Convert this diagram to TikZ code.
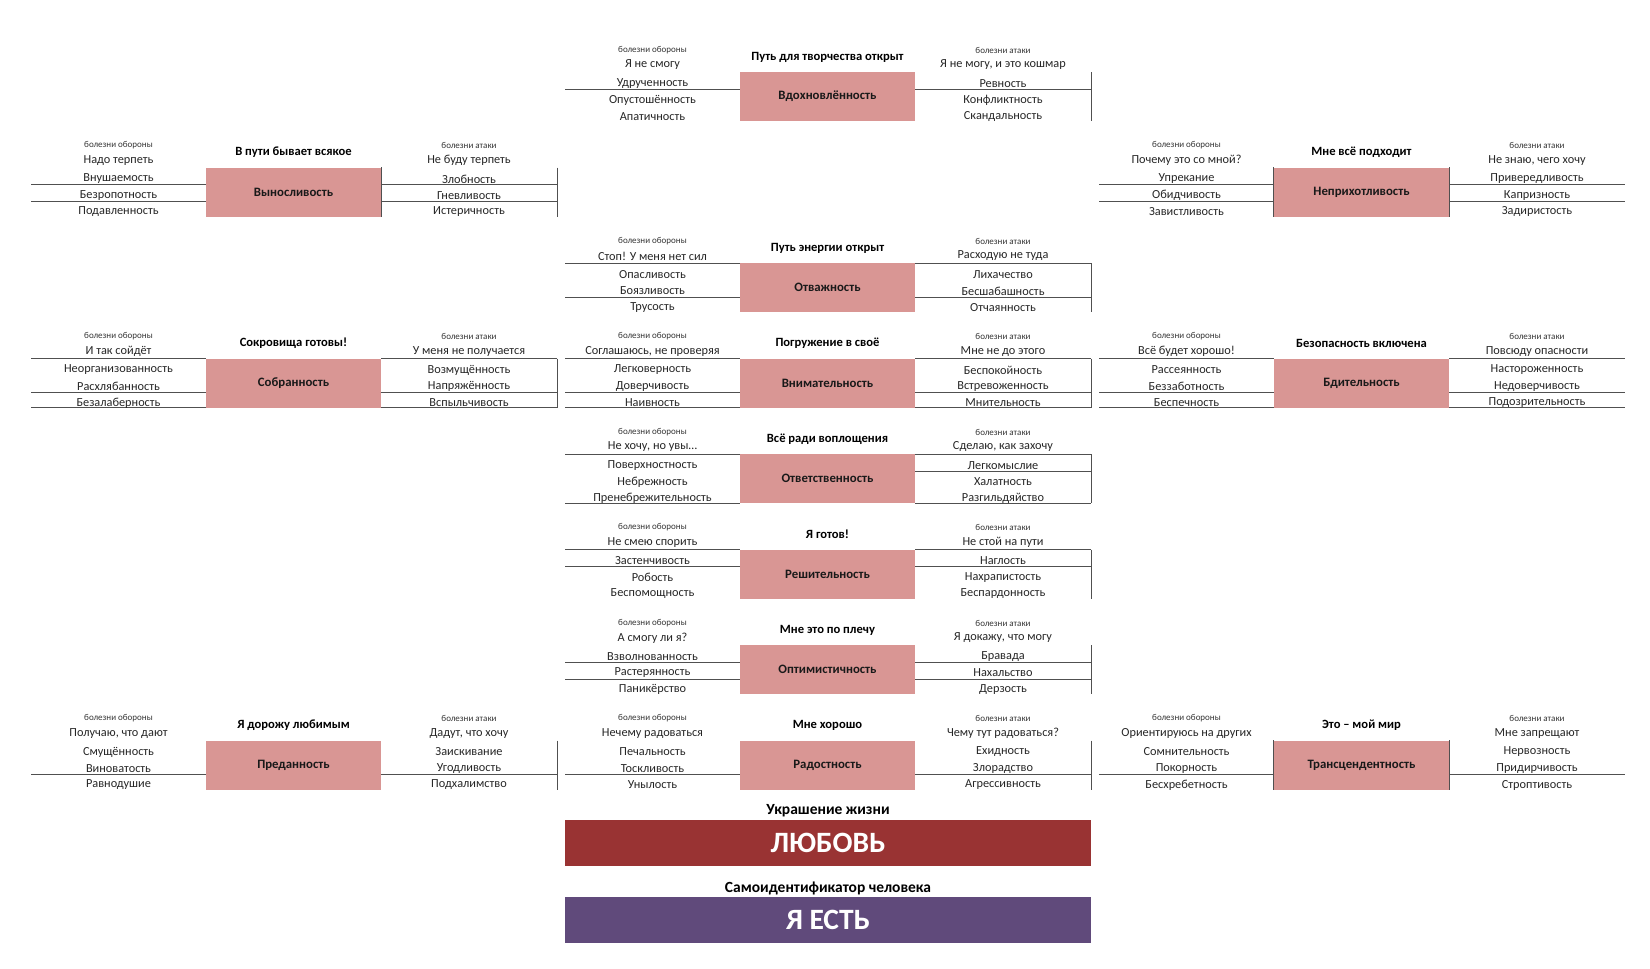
\documentclass[tikz,border=0pt]{standalone}
\usepackage{fontspec}
\setmainfont{Carlito}
\usetikzlibrary{positioning}
\definecolor{boxpink}{RGB}{217,150,148}
\definecolor{loveRed}{RGB}{153,51,51}
\definecolor{iamViolet}{RGB}{96,74,123}
\definecolor{gridgrey}{RGB}{80,80,80}

\tikzset{
  cell/.style={font=\fontsize{12.3}{14}\selectfont, text=black!85, inner sep=0pt},
  head/.style={font=\fontsize{9}{10}\selectfont, text=black!80, inner sep=0pt},
  ttl/.style={font=\bfseries\fontsize{12.6}{14}\selectfont, inner sep=0pt},
  virtue/.style={fill=boxpink, font=\bfseries\fontsize{12.8}{14}\selectfont, text=black!90,
    minimum width=175pt, minimum height=49pt, inner sep=0pt},
  rule/.style={draw=gridgrey, line width=1pt},
  bar/.style={text=white, font=\bfseries\fontsize{29.5}{32}\selectfont,
    minimum width=526pt, minimum height=46pt, inner sep=0pt},
  barttl/.style={font=\bfseries\fontsize{15.5}{17}\selectfont, inner sep=0pt}
}

\begin{document}
\begin{tikzpicture}[x=1pt, y=-1pt]
\useasboundingbox (0,0) rectangle (1650,969);

% blocks: x / row / title / virtue / defence / attack / 3 left / 3 right / left rules / right rules / right edge
\foreach \bx/\k/\ttl/\vt/\dl/\al/\la/\lb/\lc/\ra/\rb/\rc/\ll/\rl/\vv [count=\n] in {
  565/0/Путь для творчества открыт/Вдохновлённость/Я не смогу/{Я не могу, и это кошмар}/Удрученность/Опустошённость/Апатичность/Ревность/Конфликтность/Скандальность/{17}/{17}/1,
  31/1/В пути бывает всякое/Выносливость/Надо терпеть/Не буду терпеть/Внушаемость/Безропотность/Подавленность/Злобность/Гневливость/Истеричность/{17,34}/{17,34}/1,
  1099/1/Мне всё подходит/Неприхотливость/Почему это со мной?/{Не знаю, чего хочу}/Упрекание/Обидчивость/Завистливость/Привередливость/Капризность/Задиристость/{17,34}/{17,34}/0,
  565/2/Путь энергии открыт/Отважность/Стоп! У меня нет сил/Расходую не туда/Опасливость/Боязливость/Трусость/Лихачество/Бесшабашность/Отчаянность/{0,34}/{0,34}/1,
  31/3/Сокровища готовы!/Собранность/И так сойдёт/У меня не получается/Неорганизованность/Расхлябанность/Безалаберность/Возмущённость/Напряжённость/Вспыльчивость/{0,34,49}/{0,34,49}/1,
  565/3/Погружение в своё/Внимательность/{Соглашаюсь, не проверяя}/Мне не до этого/Легковерность/Доверчивость/Наивность/Беспокойность/Встревоженность/Мнительность/{0,34,49}/{0,34,49}/1,
  1099/3/Безопасность включена/Бдительность/Всё будет хорошо!/Повсюду опасности/Рассеянность/Беззаботность/Беспечность/Настороженность/Недоверчивость/Подозрительность/{0,34,49}/{0,34,49}/0,
  565/4/Всё ради воплощения/Ответственность/{Не хочу, но увы…}/{Сделаю, как захочу}/Поверхностность/Небрежность/Пренебрежительность/Легкомыслие/Халатность/Разгильдяйство/{0,49}/{0,17,49}/1,
  565/5/Я готов!/Решительность/Не смею спорить/Не стой на пути/Застенчивость/Робость/Беспомощность/Наглость/Нахрапистость/Беспардонность/{0,17}/{0,17}/1,
  565/6/Мне это по плечу/Оптимистичность/А смогу ли я?/{Я докажу, что могу}/Взволнованность/Растерянность/Паникёрство/Бравада/Нахальство/Дерзость/{17,34}/{17,34}/1,
  31/7/Я дорожу любимым/Преданность/{Получаю, что дают}/{Дадут, что хочу}/Смущённость/Виноватость/Равнодушие/Заискивание/Угодливость/Подхалимство/{34}/{34}/1,
  565/7/Мне хорошо/Радостность/Нечему радоваться/Чему тут радоваться?/Печальность/Тоскливость/Унылость/Ехидность/Злорадство/Агрессивность/{34}/{34}/1,
  1099/7/Это – мой мир/Трансцендентность/Ориентируюсь на других/Мне запрещают/Сомнительность/Покорность/Бесхребетность/Нервозность/Придирчивость/Строптивость/{34}/{34}/0}
{
  \pgfmathsetmacro{\by}{72+95.5*\k}
  % grid rules
  \foreach \c in \ll {\draw[rule] (\bx,\by+\c) -- ++(175,0);}
  \foreach \c in \rl {\draw[rule] (\bx+350,\by+\c) -- ++(176,0);}
  \ifnum\vv=1 \draw[rule] (\bx+526,\by) -- ++(0,49); \fi
  % centre box and title
  \node[virtue] (vir\n) at (\bx+262.5,\by+24.5) {\vt};
  \node[ttl] (ttl\n) at (\bx+262.5,\by-15) {\ttl};
  % defence side
  \node[head] (dh\n) at (\bx+87.5,\by-22) {болезни обороны};
  \node[cell] (dl\n) at (\bx+87.5,\by-7) {\dl};
  \node[cell] (la\n) at (\bx+87.5,\by+11.5) {\la};
  \node[cell] (lb\n) at (\bx+87.5,\by+28) {\lb};
  \node[cell] (lc\n) at (\bx+87.5,\by+44.5) {\lc};
  % attack side
  \node[head] (ah\n) at (\bx+438,\by-22) {болезни атаки};
  \node[cell] (al\n) at (\bx+438,\by-7) {\al};
  \node[cell] (ra\n) at (\bx+438,\by+11.5) {\ra};
  \node[cell] (rb\n) at (\bx+438,\by+28) {\rb};
  \node[cell] (rc\n) at (\bx+438,\by+44.5) {\rc};
}

% dark box edges on the outer blocks
\draw[rule] (vir2.north east) -- (vir2.south east);
\draw[rule] (vir3.north west) -- (vir3.south west);
\draw[rule] (vir3.north east) -- (vir3.south east);
\draw[rule] (vir13.north west) -- (vir13.south west);
\draw[rule] (vir13.north east) -- (vir13.south east);

% bottom bars
\node[barttl] (decor) at (828,811) {Украшение жизни};
\node[bar, fill=loveRed] (love) at (828,842.5) {ЛЮБОВЬ};
\node[barttl] (selfid) at (828,888) {Самоидентификатор человека};
\node[bar, fill=iamViolet] (iam) at (828,919.5) {Я ЕСТЬ};

\end{tikzpicture}
\end{document}
